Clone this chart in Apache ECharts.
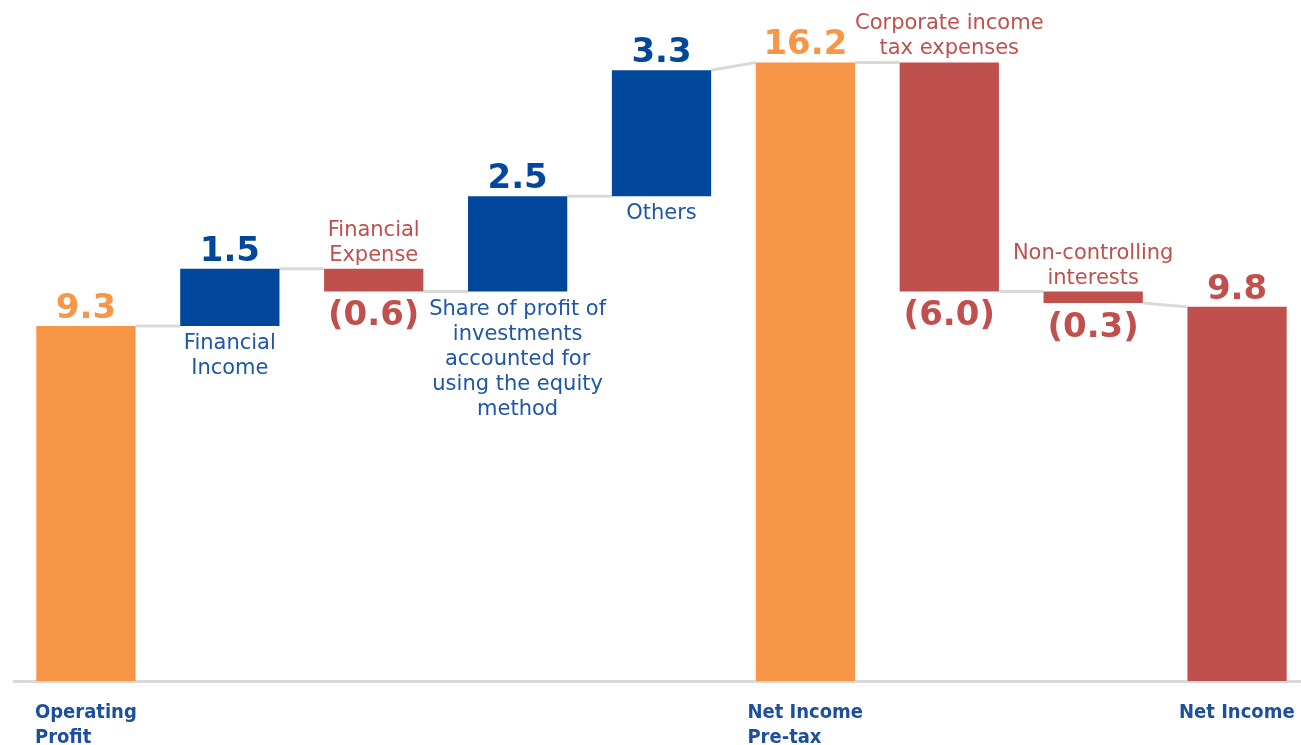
<!DOCTYPE html>
<html>
<head>
<meta charset="utf-8">
<script src="https://cdn.jsdelivr.net/npm/echarts@6/dist/echarts.min.js"></script>
<style>
  html, body { margin: 0; padding: 0; background: #ffffff; }
  #chart { width: 1301px; height: 745px; }
</style>
</head>
<body>
<div id="chart"></div>
<script>
// ---- data ----
const categories = [
  'Operating Profit', 'Financial Income', 'Financial Expense',
  'Share of profit of investments accounted for using the equity method',
  'Others', 'Net Income Pre-tax', 'Corporate income tax expenses',
  'Non-controlling interests', 'Net Income'
];
const amounts = [9.3, 1.5, -0.6, 2.5, 3.3, 16.2, -6.0, -0.3, 9.8];
const stepTypes = ['total', 'delta', 'delta', 'delta', 'delta', 'total', 'delta', 'delta', 'total'];
const valueTexts = ['9.3', '1.5', '(0.6)', '2.5', '3.3', '16.2', '(6.0)', '(0.3)', '9.8'];
const stepNames = [
  '', 'Financial\nIncome', 'Financial\nExpense',
  'Share of profit of\ninvestments\naccounted for\nusing the equity\nmethod',
  'Others', '', 'Corporate income\ntax expenses', 'Non-controlling\ninterests', ''
];
const nameSides = ['', 'below', 'above', 'below', 'below', '', 'above', 'above', ''];
const axisTickLabels = ['Operating\nProfit', '', '', '', '', 'Net Income\nPre-tax', '', '', 'Net Income'];

// ---- styling ----
const ORANGE = '#F79646', BLUE = '#01479B', RED = '#C0504D', GREY = '#D9D9D9';
const AXIS_BLUE = '#1C4F9C';
const barColors = [ORANGE, BLUE, RED, BLUE, BLUE, ORANGE, RED, RED, RED];
const nameColors = [BLUE, '#1F56A8', RED, '#1F56A8', '#1F56A8', BLUE, RED, RED, RED];
const BAR_RATIO = 0.69;
const VALUE_FONT = 'bold 34px "DejaVu Sans", Verdana, sans-serif';
const NAME_FONT = '21px "DejaVu Sans", Verdana, sans-serif';
const AXIS_FONT_FAMILY = '"DejaVu Sans Condensed", "DejaVu Sans", sans-serif';

// running totals: each bar spans [start, end]
let running = 0;
const spans = amounts.map((v, i) => {
  if (stepTypes[i] === 'total') { running = v; return [0, v]; }
  const s = running; running += v; return [s, running];
});
// level where a connector leaves bar i and where it enters bar i
const exitLevel = spans.map(s => s[1]);
const entryLevel = spans.map((s, i) => stepTypes[i] === 'total' ? s[1] : s[0]);

const barData = spans.map((s, i) => [i, s[0], s[1]]);
const linkData = [];
for (let i = 0; i < spans.length - 1; i++) linkData.push([i, exitLevel[i], entryLevel[i + 1]]);

// axis labels: lines left-aligned inside a block centred under the bar
const measureCtx = document.createElement('canvas').getContext('2d');
measureCtx.font = 'bold 20px ' + AXIS_FONT_FAMILY;
const axisRich = {};
axisTickLabels.forEach((t, k) => {
  if (!t) return;
  const w = Math.max(...t.split('\n').map(l => measureCtx.measureText(l).width));
  axisRich['t' + k] = {
    width: Math.ceil(w), align: 'left', color: AXIS_BLUE,
    fontFamily: AXIS_FONT_FAMILY, fontWeight: 'bold', fontSize: 20, lineHeight: 25
  };
});

const chart = echarts.init(document.getElementById('chart'), null, { renderer: 'canvas' });

chart.setOption({
  backgroundColor: '#ffffff',
  animation: false,
  grid: { left: 14, top: 32, width: 1295, height: 649, containLabel: false, outerBoundsMode: 'none' },
  xAxis: {
    type: 'category',
    data: categories,
    axisLine: { lineStyle: { color: GREY, width: 3 } },
    axisTick: { show: false },
    axisLabel: {
      interval: 0,
      margin: 19,
      formatter: (value, index) => {
        const t = axisTickLabels[index];
        if (!t) return '';
        return t.split('\n').map(l => '{t' + index + '|' + l + '}').join('\n');
      },
      rich: axisRich
    }
  },
  yAxis: { type: 'value', min: 0, max: 17, show: false, splitLine: { show: false } },
  series: [
    {
      type: 'custom',
      name: 'links',
      data: linkData,
      z: 1,
      renderItem: (params, api) => {
        const i = api.value(0);
        const w = api.size([1, 0])[0] * BAR_RATIO;
        const a = api.coord([i, api.value(1)]);
        const b = api.coord([i + 1, api.value(2)]);
        return {
          type: 'line',
          shape: { x1: a[0] + w / 2, y1: a[1], x2: b[0] - w / 2, y2: b[1] },
          style: { stroke: GREY, lineWidth: 3 }
        };
      }
    },
    {
      type: 'custom',
      name: 'steps',
      data: barData,
      z: 2,
      renderItem: (params, api) => {
        const i = api.value(0);
        const w = api.size([1, 0])[0] * BAR_RATIO;
        const p0 = api.coord([i, api.value(1)]);
        const p1 = api.coord([i, api.value(2)]);
        const top = Math.min(p0[1], p1[1]);
        const bottom = Math.max(p0[1], p1[1]);
        const cx = p0[0];
        const children = [{
          type: 'rect',
          shape: { x: cx - w / 2, y: top, width: w, height: bottom - top },
          style: { fill: barColors[i] }
        }];
        const negative = amounts[i] < 0;
        children.push({
          type: 'text',
          style: {
            text: valueTexts[i], x: cx, y: negative ? bottom + 25 : top - 17,
            align: 'center', verticalAlign: 'middle',
            font: VALUE_FONT, fill: barColors[i]
          }
        });
        if (stepNames[i]) {
          const below = nameSides[i] === 'below';
          children.push({
            type: 'text',
            style: {
              text: stepNames[i], x: cx, y: below ? bottom + 5 : top - 1,
              align: 'center', verticalAlign: below ? 'top' : 'bottom',
              font: NAME_FONT, lineHeight: 25, fill: nameColors[i]
            }
          });
        }
        return { type: 'group', children };
      }
    }
  ]
});
</script>
</body>
</html>
